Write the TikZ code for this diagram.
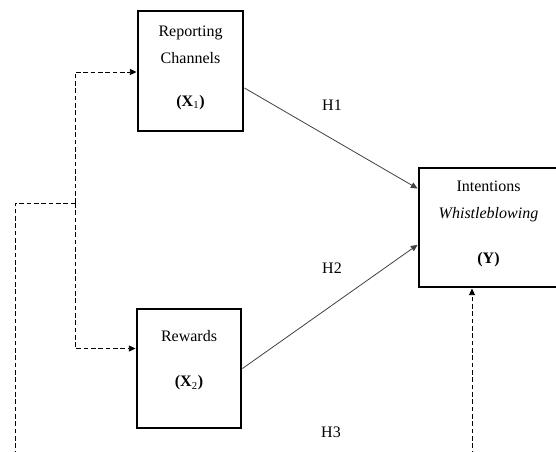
\documentclass[tikz,border=0pt]{standalone}
\usepackage{fontspec}
\setmainfont{Liberation Serif}
\usetikzlibrary{arrows.meta,positioning,calc}

\begin{document}
\begin{tikzpicture}[x=0.75pt,y=-0.75pt,
    every node/.style={font=\fontsize{12}{20.25}\selectfont},
    varbox/.style={draw,line width=2.2pt,inner sep=0pt},
    boxtext/.style={align=center,inner sep=0pt},
    hyp/.style={draw=black!75,line width=0.6pt,-{Triangle[length=5pt,width=4.5pt]}},
    mod/.style={draw,line width=0.6pt,dash pattern=on 3.5pt off 2pt},
    modarrow/.style={mod,-{Triangle[length=5pt,width=4.5pt]}}]
    \useasboundingbox (0,0) rectangle (556,452);
    % Variables
    \node[varbox,minimum width=78.75pt,minimum height=90pt] (chan) at (190.5,71) {};
    \node[varbox,minimum width=78pt,minimum height=89.25pt] (reward) at (189,368.5) {};
    \node[varbox,minimum width=111pt,minimum height=89.25pt] (intent) at (493,227.5) {};
    \node[boxtext] (chantext) at (190.5,68) {Reporting\\Channels\\[12pt]\textbf{(X}\textsubscript{1}\textbf{)}};
    \node[boxtext] (rewardtext) at (189,360.5) {Rewards\\[13.5pt]\textbf{(X}\textsubscript{2}\textbf{)}};
    \node[boxtext] (intenttext) at (488.5,223.5) {Intentions\\\textit{Whistleblowing}\\[13.5pt]\textbf{(Y)}};
    % Hypotheses
    \draw[hyp] ([yshift=-12.75pt]chan.east) -- ([yshift=-16.5pt]intent.north west);
    \draw[hyp] (reward.east) -- ([yshift=-13pt]intent.west);
    \node (h1) at (332,105) {H1};
    \node (h2) at (332,268) {H2};
    \node (h3) at (331,432) {H3};
    % Moderating paths
    \coordinate (split) at (75,203);
    \coordinate (leftfoot) at (15,470);
    \coordinate (rightfoot) at (472,470);
    \draw[modarrow] (split) |- ([yshift=-0.75pt]chan.west);
    \draw[modarrow] (split) |- ([yshift=15pt]reward.west);
    \draw[mod] (leftfoot) |- (split);
    \draw[modarrow] (rightfoot) -- (rightfoot |- intent.south);
\end{tikzpicture}
\end{document}
